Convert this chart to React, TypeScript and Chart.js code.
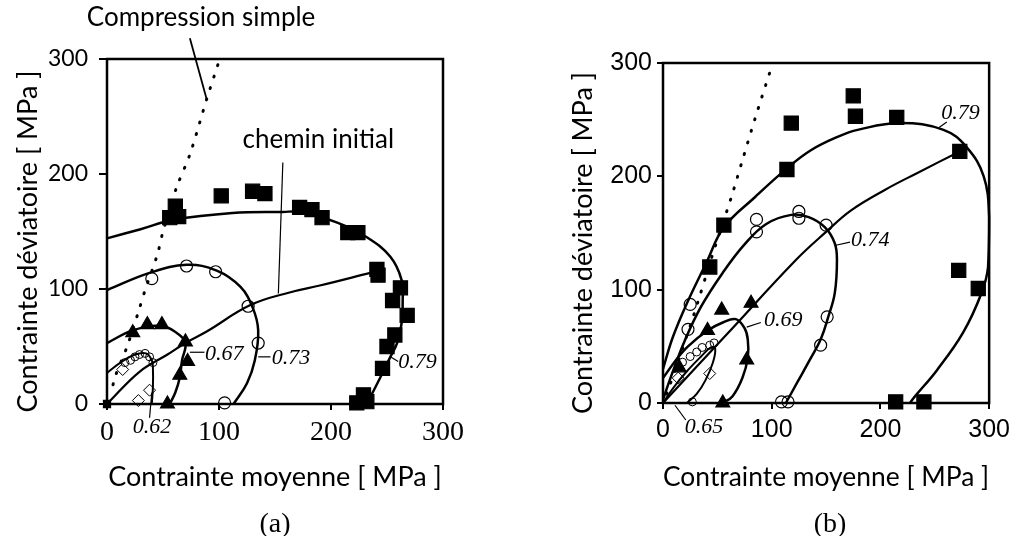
import React, { useEffect, useRef } from 'react';
import { Chart, registerables } from 'chart.js';
Chart.register(...registerables);

type P = [number, number];

// ---------- Panel (a) data ----------
const squaresA: P[] = [[61,172],[56,162],[64,163],[102,181],[130,185],[141,183],[172,171],[183,169],[192,162],[215,149],[224,149],[241,117],[242,112],[262,101],[255,90],[268,77],[257,60],[250,50],[246,31],[229,8],[223,1],[232,2]];
const curve79A: P[] = [[0,144],[30,152],[59,160],[112,166],[157,167],[172,167],[205,158],[232,145],[253,128],[263,108],[264,90],[263,70],[259,53],[253,41],[244,23],[232,0]];
const circles73A: P[] = [[40,109],[71,120],[97,115],[126,85],[135,53],[105,1]];
const curve73A: P[] = [[0,99],[38,114],[71,121],[98,116],[119,102],[130,84],[135,64],[132,38],[125,18],[113,0]];
const triangles67A: P[] = [[23,62],[36,69],[49,69],[70,54],[72,37],[65,25],[54,0]];
const curve67A: P[] = [[0,53],[23,64],[47,68],[62,62],[70,53],[67,38],[65,23],[61,10],[56,0]];
const circles62A: P[] = [[25,41],[29,43],[34,44],[38,41],[41,36],[21,38],[16,36]];
const diamonds62A: P[] = [[14,30],[38,12],[28,3]];
const curve62A: P[] = [[0,27],[12,36],[25,43],[35,44],[40,38],[41,31],[41,15],[40,0]];
const cheminA: P[] = [[0,0],[29,28],[54,43],[70,53],[89,63],[128,86],[163,97],[190,103],[235,114]];
const dottedA: P[] = [[99,295],[89,265],[74,217],[62,188],[50,150],[45,130],[34,99],[28,80],[18,50],[7,23],[4,10]];
const originA: P[] = [[0,0]];
const leadersA: P[][] = [[[74,318],[89,265]],[[157,210],[153,96]],[[74,45],[87,45]],[[135,41],[146,41]],[[253,41],[260,37]],[[40,10],[38,-12]]];
const notesA = ['Compression simple', 'chemin initial'];
const notesAX = [186, 121];
const notesAY = [336, 230];
const notesAAlign = ['right', 'left'];
const labelsA = ['0.67', '0.73', '0.79', '0.62'];
const labelsAX = [87.5, 147, 260, 23];
const labelsAY = [43, 40, 36, -20];

// ---------- Panel (b) data ----------
const squaresB: P[] = [[175,271],[177,253],[215,252],[273,222],[272,117],[290,101],[214,1],[240,1],[118,247],[114,206],[56,157],[43,120]];
const curve79B: P[] = [[0,30],[9,58],[22,88],[40,124],[56,155],[85,182],[114,207],[136,223],[161,235],[179,241],[218,247],[258,241],[279,226],[295,200],[300,164],[299,120],[293,97],[276,62],[252,29],[231,5],[227,0]];
const circles74B: P[] = [[25,87],[23,65],[86,162],[86,151],[125,169],[125,163],[150,157],[151,76],[145,51],[109,1],[115,1]];
const curve74B: P[] = [[0,3],[8,25],[20,55],[35,85],[55,115],[75,140],[95,158],[118,166],[134,164],[149,155],[158,141],[160,126],[158,97],[152,76],[145,56],[135,38],[124,19],[113,0]];
const triangles69B: P[] = [[41,64],[54,82],[81,88],[77,38],[55,0],[15,31]];
const curve69B: P[] = [[0,22],[12,38],[23,50],[41,64],[55,71],[67,74],[75,66],[78,56],[78,40],[73,22],[64,6],[55,0]];
const circles65B: P[] = [[25,41],[31,45],[36,49],[43,51],[47,53],[18,36],[27,1]];
const diamonds65B: P[] = [[14,22],[43,26]];
const curve65B: P[] = [[0,0],[10,14],[22,28],[35,41],[44,49],[48,48],[46,36],[39,20],[31,8],[22,0]];
const cheminB: P[] = [[0,0],[60,62],[122,126],[150,151],[173,170],[204,188],[234,203],[273,222]];
const dottedB: P[] = [[98,291],[85,252],[73,214],[63,182],[52,150],[42,120],[34,95],[25,68],[15,40],[6,15],[0,0]];
const leadersB: P[][] = [[[254,243],[261,248]],[[158,139],[172,142]],[[77,67],[90,71]],[[11,-2],[21,-15]]];
const labelsB = ['0.79', '0.74', '0.69', '0.65'];
const labelsBX = [256, 173, 93, 20];
const labelsBY = [256, 144, 73, -21];

const xTicks = [0, 100, 200, 300];
const yTicks = [0, 100, 200, 300];
const xTitle = 'Contrainte moyenne [ MPa ]';
const yTitle = 'Contrainte déviatoire [ MPa ]';

const xy = (pts: P[]) => pts.map(([x, y]) => ({ x, y }));

function curve(pts: P[], width = 2.5, tension = 0.4, dash: number[] = []) {
  return {
    data: xy(pts), showLine: true, borderColor: '#000', borderWidth: width, borderDash: dash,
    borderCapStyle: dash.length ? 'round' : 'butt', pointRadius: 0, pointHoverRadius: 0,
    tension, fill: false, clip: false,
  };
}
function marks(pts: P[], style: string, radius: number, filled: boolean, bw = 1.2) {
  return {
    data: xy(pts), showLine: false, pointStyle: style, pointRadius: radius, pointHoverRadius: radius,
    pointBackgroundColor: filled ? '#000' : 'rgba(0,0,0,0)', backgroundColor: filled ? '#000' : 'rgba(0,0,0,0)',
    pointBorderColor: '#000', borderColor: '#000', pointBorderWidth: bw, borderWidth: bw, clip: false,
  };
}

const ITALIC = 'italic 22px "Liberation Serif"';
const SANS = '26px Lato';
const TITLE = '27px Lato';

function annotPlugin(labels: string[], lx: number[], ly: number[], notes: string[], nx: number[], ny: number[], na: string[], yTitleX: number) {
  return {
    id: 'annot',
    afterDatasetsDraw(chart: any) {
      const { ctx, chartArea, scales } = chart;
      const x = scales.x, y = scales.y;
      ctx.save();
      ctx.strokeStyle = '#000';
      ctx.lineWidth = 2.5;
      ctx.strokeRect(chartArea.left, chartArea.top, chartArea.right - chartArea.left, chartArea.bottom - chartArea.top);
      ctx.fillStyle = '#000';
      ctx.textBaseline = 'middle';
      ctx.font = ITALIC;
      ctx.textAlign = 'left';
      labels.forEach((t, i) => ctx.fillText(t, x.getPixelForValue(lx[i]), y.getPixelForValue(ly[i])));
      ctx.font = SANS;
      notes.forEach((t, i) => {
        ctx.textAlign = na[i];
        ctx.fillText(t, x.getPixelForValue(nx[i]), y.getPixelForValue(ny[i]));
      });
      // y-axis title (slightly below the plot centre, as in the reference)
      ctx.font = TITLE;
      ctx.textAlign = 'center';
      ctx.translate(yTitleX, (chartArea.top + chartArea.bottom) / 2 + 10);
      ctx.rotate(-Math.PI / 2);
      ctx.fillText(yTitle, 0, 0);
      ctx.restore();
    },
  };
}

function makeOptions(cfg: { padRight: number; padTop: number; yWidth: number; xHeight: number; xTickFont: any; yTickFont: any; yTickPad: number; yTickLen: number; xTickPad: number }) {
  return {
    responsive: false,
    animation: false,
    devicePixelRatio: 1,
    events: [],
    layout: { padding: { left: 0, top: cfg.padTop, right: cfg.padRight, bottom: 0 } },
    plugins: { legend: { display: false }, tooltip: { enabled: false } },
    scales: {
      x: {
        type: 'linear', min: 0, max: 300,
        afterBuildTicks: (s: any) => { s.ticks = xTicks.map((v) => ({ value: v })); },
        ticks: { color: '#000', font: cfg.xTickFont, padding: cfg.xTickPad, maxRotation: 0 },
        grid: { drawOnChartArea: false, drawTicks: true, tickLength: 6, color: '#000', lineWidth: 2 },
        border: { display: false },
        title: { display: true, text: xTitle, color: '#000', font: { family: 'Lato', size: 27, lineHeight: 1.2 }, padding: { top: 0, bottom: 43 } },
        afterFit: (s: any) => { s.height = cfg.xHeight; },
      },
      y: {
        type: 'linear', min: 0, max: 300,
        afterBuildTicks: (s: any) => { s.ticks = yTicks.map((v) => ({ value: v })); },
        ticks: { color: '#000', font: cfg.yTickFont, padding: cfg.yTickPad },
        grid: { drawOnChartArea: false, drawTicks: true, tickLength: cfg.yTickLen, color: '#000', lineWidth: 2 },
        border: { display: false },
        title: { display: false },
        afterFit: (s: any) => { s.width = cfg.yWidth; },
      },
    },
  };
}

function PanelA() {
  const ref = useRef<HTMLCanvasElement>(null);
  useEffect(() => {
    const datasets: any[] = [
      marks(squaresA, 'rect', 10, true),
      marks(triangles67A, 'triangle', 8, true),
      marks(circles73A, 'circle', 6, false),
      marks(circles62A, 'circle', 4, false, 1),
      marks(diamonds62A, 'rectRot', 6, false, 1),
      marks(originA, 'rect', 5, true),
      curve(curve79A), curve(curve73A), curve(curve67A), curve(curve62A, 2),
      curve(cheminA, 2.2), curve(dottedA, 3, 0.3, [1, 11]),
      ...leadersA.map((l, i) => curve(l, i === 0 ? 1.8 : 1.2, 0)),
    ];
    const chart = new Chart(ref.current!, {
      type: 'scatter',
      data: { datasets },
      options: makeOptions({ padRight: 65, padTop: 59, yWidth: 107, xHeight: 132,
        xTickFont: { family: 'Liberation Serif', size: 28 }, yTickFont: { family: 'Lato', size: 23 }, yTickPad: 11, yTickLen: 8, xTickPad: 6 }) as any,
      plugins: [annotPlugin(labelsA, labelsAX, labelsAY, notesA, notesAX, notesAY, notesAAlign, 28) as any],
    });
    return () => chart.destroy();
  }, []);
  return <canvas ref={ref} width={508} height={536} style={{ position: 'absolute', left: 0, top: 0, width: 508, height: 536 }} />;
}

function PanelB() {
  const ref = useRef<HTMLCanvasElement>(null);
  useEffect(() => {
    const datasets: any[] = [
      marks(squaresB, 'rect', 10, true),
      marks(triangles69B, 'triangle', 8, true),
      marks(circles74B, 'circle', 6, false),
      marks(circles65B, 'circle', 4, false, 1),
      marks(diamonds65B, 'rectRot', 6, false, 1),
      curve(curve79B), curve(curve74B), curve(curve69B), curve(curve65B, 2),
      curve(cheminB, 2.2), curve(dottedB, 3, 0.3, [1, 11]),
      ...leadersB.map((l) => curve(l, 1.2, 0)),
    ];
    const chart = new Chart(ref.current!, {
      type: 'scatter',
      data: { datasets },
      options: makeOptions({ padRight: 23, padTop: 63, yWidth: 155, xHeight: 133,
        xTickFont: { family: 'Liberation Sans', size: 25 }, yTickFont: { family: 'Liberation Sans', size: 25 }, yTickPad: 5, yTickLen: 6, xTickPad: 6 }) as any,
      plugins: [annotPlugin(labelsB, labelsBX, labelsBY, [], [], [], [], 75) as any],
    });
    return () => chart.destroy();
  }, []);
  return <canvas ref={ref} width={508} height={536} style={{ position: 'absolute', left: 508, top: 0, width: 508, height: 536 }} />;
}

const capStyle: React.CSSProperties = {
  position: 'absolute', top: 507, width: 100, textAlign: 'center', fontFamily: '"Liberation Serif", serif',
  fontSize: 28, lineHeight: '32px', color: '#000',
};

export default function App() {
  return (
    <div style={{ position: 'absolute', left: 0, top: 0, width: 1016, height: 536, background: '#fff', overflow: 'hidden' }}>
      <PanelA />
      <PanelB />
      <div style={{ ...capStyle, left: 225 }}>(a)</div>
      <div style={{ ...capStyle, left: 780 }}>(b)</div>
    </div>
  );
}
